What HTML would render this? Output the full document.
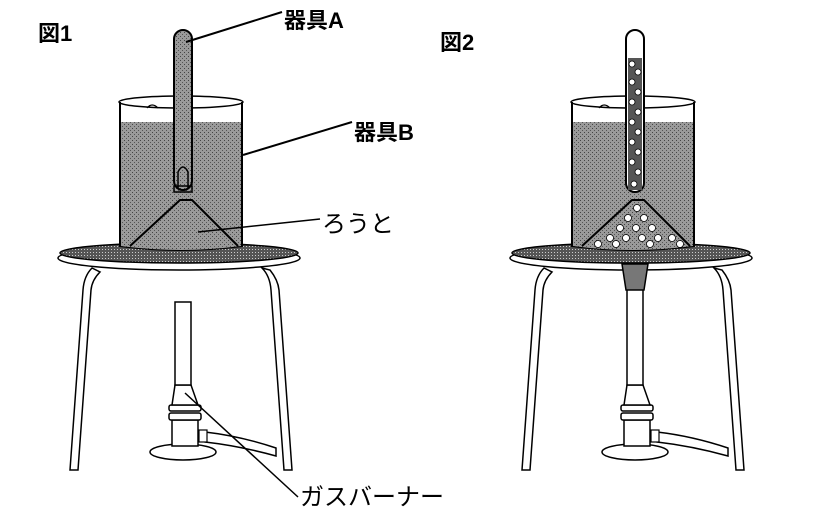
<!DOCTYPE html>
<html><head><meta charset="utf-8"><style>
html,body{margin:0;padding:0;background:#fff;}
svg{display:block;}
text{font-family:"Liberation Sans","Noto Sans CJK JP",sans-serif;fill:#000;}
</style></head><body>
<svg width="828" height="517" viewBox="0 0 828 517" xmlns="http://www.w3.org/2000/svg">
<defs>
<pattern id="dots" width="4" height="4" patternUnits="userSpaceOnUse">
<rect width="4" height="4" fill="#9a9a9a"/><rect width="1" height="1" fill="#444"/><rect x="2" y="2" width="1" height="1" fill="#555"/>
</pattern>
<pattern id="mesh" width="3" height="3" patternUnits="userSpaceOnUse">
<rect width="3" height="3" fill="#555"/><rect width="1" height="1" fill="#ccc"/>
</pattern>
<g id="stand">
  <path d="M92 268 Q84 276 83 290 L70 470 L78 470 L91 290 Q92 280 100 272 Z" fill="#fff" stroke="#000" stroke-width="1.5"/>
  <path d="M262 268 Q270 276 271 290 L284 470 L292 470 L279 290 Q278 280 270 270 Z" fill="#fff" stroke="#000" stroke-width="1.5"/>
  <ellipse cx="179" cy="258" rx="121" ry="12" fill="#fff" stroke="#000" stroke-width="1.5"/>
  <ellipse cx="179" cy="253" rx="119" ry="10" fill="url(#mesh)" stroke="#000" stroke-width="1.5"/>
</g>
<g id="burnerbase">
  <ellipse cx="183" cy="452" rx="33" ry="8" fill="#fff" stroke="#000" stroke-width="1.5"/>
  <path d="M205 432 Q240 436 276 448 L276 456 Q240 446 205 442 Z" fill="#fff" stroke="#000" stroke-width="1.5"/>
  <rect x="199" y="430" width="8" height="12" fill="#fff" stroke="#000" stroke-width="1.2"/>
  <rect x="172" y="420" width="26" height="26" fill="#fff" stroke="#000" stroke-width="1.5"/>
  <rect x="169" y="405" width="32" height="6" rx="2" fill="#fff" stroke="#000" stroke-width="1.5"/>
  <rect x="169" y="413" width="32" height="7" rx="2" fill="#fff" stroke="#000" stroke-width="1.5"/>
  <path d="M175 385 L172 405 L198 405 L191 385 Z" fill="#fff" stroke="#000" stroke-width="1.5"/>
</g>
<g id="beaker">
  <path d="M120 102 L120 246 Q180 254 242 246 L242 102" fill="#fff" stroke="#000" stroke-width="2"/>
  <path d="M121 122 L241 122 L241 246 Q180 254 121 246 Z" fill="url(#dots)"/>
  <ellipse cx="181" cy="102" rx="62" ry="6" fill="none" stroke="#000" stroke-width="1.5"/>
  <path d="M147 108 Q152 102 158 108" fill="none" stroke="#000" stroke-width="1.2"/>
  <path d="M130 246 L180 200 L192 200 L238 246" fill="none" stroke="#000" stroke-width="2"/>
</g>
</defs>

<!-- Figure 1 -->
<use href="#stand"/>
<use href="#burnerbase"/>
<rect x="175" y="302" width="16" height="83" fill="#fff" stroke="#000" stroke-width="1.5"/>
<use href="#beaker"/>
<rect x="174" y="30" width="18" height="160" rx="9" fill="url(#dots)" stroke="#000" stroke-width="2"/>
<path d="M178 188 L178 172 Q183 162 188 172 L188 188" fill="none" stroke="#000" stroke-width="1.5"/>
<rect x="174" y="186" width="18" height="6" fill="none" stroke="#000" stroke-width="1.5"/>
<line x1="186" y1="42" x2="282" y2="12" stroke="#000" stroke-width="2"/>
<line x1="243" y1="155" x2="352" y2="122" stroke="#000" stroke-width="2"/>
<line x1="198" y1="232" x2="320" y2="219" stroke="#000" stroke-width="1.5"/>
<line x1="185" y1="393" x2="298" y2="497" stroke="#000" stroke-width="1.5"/>

<!-- Figure 2 -->
<g transform="translate(452,0)">
  <use href="#stand"/>
  <use href="#burnerbase"/>
  <rect x="175" y="285" width="16" height="100" fill="#fff" stroke="#000" stroke-width="1.5"/>
  <path d="M170 264 L174 290 L192 290 L196 264 Z" fill="#777" stroke="#000" stroke-width="1.5"/>
  <use href="#beaker"/>
  <rect x="174" y="30" width="18" height="162" rx="9" fill="#fff" stroke="#000" stroke-width="2"/>
  <rect x="176" y="58" width="14" height="132" fill="#555"/>
  <g fill="#fff" stroke="#000" stroke-width="0.8">
    <circle cx="180" cy="64" r="3"/><circle cx="186" cy="72" r="3"/><circle cx="180" cy="82" r="3"/><circle cx="186" cy="92" r="3"/>
    <circle cx="180" cy="102" r="3"/><circle cx="186" cy="112" r="3"/><circle cx="180" cy="122" r="3"/><circle cx="186" cy="132" r="3"/>
    <circle cx="180" cy="142" r="3"/><circle cx="186" cy="152" r="3"/><circle cx="180" cy="162" r="3"/><circle cx="186" cy="172" r="3"/><circle cx="182" cy="184" r="3"/>
    <circle cx="185" cy="208" r="3.5"/><circle cx="176" cy="218" r="3.5"/><circle cx="192" cy="218" r="3.5"/><circle cx="168" cy="228" r="3.5"/>
    <circle cx="184" cy="228" r="3.5"/><circle cx="200" cy="228" r="3.5"/><circle cx="158" cy="238" r="3.5"/><circle cx="174" cy="238" r="3.5"/>
    <circle cx="190" cy="238" r="3.5"/><circle cx="206" cy="238" r="3.5"/><circle cx="220" cy="238" r="3.5"/><circle cx="146" cy="244" r="3.5"/>
    <circle cx="164" cy="244" r="3.5"/><circle cx="198" cy="244" r="3.5"/><circle cx="228" cy="244" r="3.5"/>
  </g>
</g>

<text x="38" y="41" font-size="22" font-weight="bold">図1</text>
<text x="440" y="50" font-size="22" font-weight="bold">図2</text>
<text x="284" y="28" font-size="22" font-weight="bold">器具A</text>
<text x="354" y="140" font-size="22" font-weight="bold">器具B</text>
<text x="322" y="232" font-size="24" font-family="Liberation Serif,'Noto Serif CJK SC',serif">ろうと</text>
<text x="300" y="505" font-size="24" font-family="Liberation Serif,'Noto Serif CJK SC',serif">ガスバーナー</text>
</svg>
</body></html>
